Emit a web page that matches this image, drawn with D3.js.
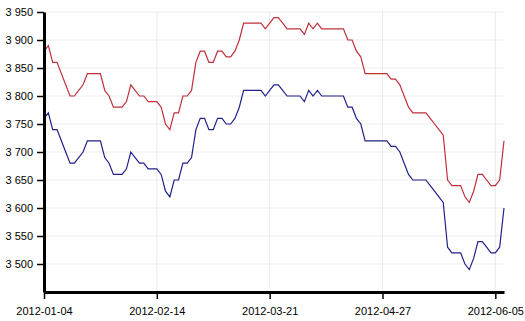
<!DOCTYPE html>
<html>
<head>
<meta charset="utf-8">
<script src="https://cdn.jsdelivr.net/npm/d3@7"></script>
<style>
  body { margin: 0; background: #fff; }
  svg { display: block; font-family: "Liberation Sans", Arial, sans-serif; }
  .grid line { stroke: #000; stroke-opacity: 0.08; }
  .axis path, .axis line { stroke: #000; }
  .axis text { font-size: 11px; fill: #000; }
</style>
</head>
<body>
<script>
const svgWidth = 525
const svgHeight = 321

// x tick positions (trading day index) and their labels
const xTickIndex = [0, 26, 52, 78, 104]
const xTickLabels = ["2012-01-04", "2012-02-14", "2012-03-21", "2012-04-27", "2012-06-05"]

const yTicks = [3500, 3550, 3600, 3650, 3700, 3750, 3800, 3850, 3900, 3950]

const redSeries = [
  3880, 3890, 3860, 3860, 3840, 3820, 3800, 3800, 3810, 3820,
  3840, 3840, 3840, 3840, 3810, 3800, 3780, 3780, 3780, 3790,
  3820, 3810, 3800, 3800, 3790, 3790, 3790, 3780, 3750, 3740,
  3770, 3770, 3800, 3800, 3810, 3860, 3880, 3880, 3860, 3860,
  3880, 3880, 3870, 3870, 3880, 3900, 3930, 3930, 3930, 3930,
  3930, 3920, 3930, 3940, 3940, 3930, 3920, 3920, 3920, 3920,
  3910, 3930, 3920, 3930, 3920, 3920, 3920, 3920, 3920, 3920,
  3900, 3900, 3880, 3870, 3840, 3840, 3840, 3840, 3840, 3840,
  3830, 3830, 3820, 3800, 3780, 3770, 3770, 3770, 3770, 3760,
  3750, 3740, 3730, 3650, 3640, 3640, 3640, 3620, 3610, 3630,
  3660, 3660, 3650, 3640, 3640, 3650, 3720
]

const blueSeries = [
  3760, 3770, 3740, 3740, 3720, 3700, 3680, 3680, 3690, 3700,
  3720, 3720, 3720, 3720, 3690, 3680, 3660, 3660, 3660, 3670,
  3700, 3690, 3680, 3680, 3670, 3670, 3670, 3660, 3630, 3620,
  3650, 3650, 3680, 3680, 3690, 3740, 3760, 3760, 3740, 3740,
  3760, 3760, 3750, 3750, 3760, 3780, 3810, 3810, 3810, 3810,
  3810, 3800, 3810, 3820, 3820, 3810, 3800, 3800, 3800, 3800,
  3790, 3810, 3800, 3810, 3800, 3800, 3800, 3800, 3800, 3800,
  3780, 3780, 3760, 3750, 3720, 3720, 3720, 3720, 3720, 3720,
  3710, 3710, 3700, 3680, 3660, 3650, 3650, 3650, 3650, 3640,
  3630, 3620, 3610, 3530, 3520, 3520, 3520, 3500, 3490, 3510,
  3540, 3540, 3530, 3520, 3520, 3530, 3600
]

const margin = { top: 12, right: 21, bottom: 29, left: 44 }
const chartWidth = svgWidth - margin.left - margin.right
const chartHeight = svgHeight - margin.top - margin.bottom

const svg = d3.select("body").append("svg")
  .attr("width", svgWidth)
  .attr("height", svgHeight)

const chartG = svg.append("g")
  .attr("transform", `translate(${margin.left}, ${margin.top})`)

const x = d3.scaleLinear()
  .domain([0, redSeries.length - 1])
  .range([0, chartWidth])

const y = d3.scaleLinear()
  .domain([3450, 3950])
  .range([chartHeight, 0])

const fmt = d3.formatLocale({ decimal: ".", thousands: " ", grouping: [3], currency: ["", ""] }).format(",")

// grid
const grid = chartG.append("g").attr("class", "grid")
grid.selectAll(".h").data(yTicks).enter().append("line")
  .attr("x1", 0).attr("x2", chartWidth)
  .attr("y1", d => y(d)).attr("y2", d => y(d))
grid.selectAll(".v").data(xTickIndex).enter().append("line")
  .attr("x1", d => x(d)).attr("x2", d => x(d))
  .attr("y1", 0).attr("y2", chartHeight)

// lines
const line = d3.line()
  .x((d, i) => x(i))
  .y(d => y(d))

chartG.append("path")
  .datum(redSeries)
  .attr("fill", "none")
  .attr("stroke", "#c0303a")
  .attr("stroke-width", 1.2)
  .attr("d", line)

chartG.append("path")
  .datum(blueSeries)
  .attr("fill", "none")
  .attr("stroke", "#20208c")
  .attr("stroke-width", 1.2)
  .attr("d", line)

// axes
const yAxis = d3.axisLeft(y)
  .tickValues(yTicks)
  .tickFormat(fmt)
  .tickSizeInner(7)
  .tickSizeOuter(0)
  .tickPadding(4)

const xAxis = d3.axisBottom(x)
  .tickValues(xTickIndex)
  .tickFormat((d, i) => xTickLabels[i])
  .tickSizeInner(7)
  .tickSizeOuter(0)
  .tickPadding(8)

const yG = chartG.append("g").attr("class", "axis").call(yAxis)
yG.select(".domain").attr("stroke-width", 3)
yG.selectAll(".tick line").attr("stroke-width", 1.5)

const xG = chartG.append("g").attr("class", "axis")
  .attr("transform", `translate(0, ${chartHeight})`)
  .call(xAxis)
xG.select(".domain").attr("stroke-width", 3)
xG.selectAll(".tick line").attr("stroke-width", 1.5)
</script>
</body>
</html>
